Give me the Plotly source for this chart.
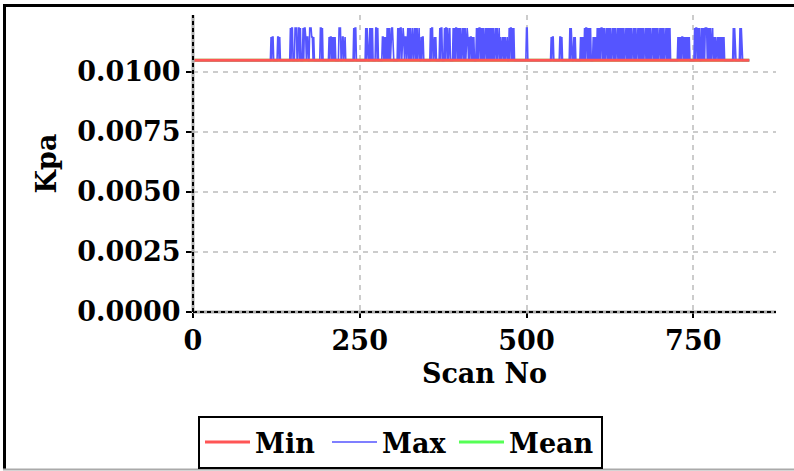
import plotly.graph_objects as go

# ---------------- data ----------------
n_scans = 835
scan_no = list(range(n_scans))

min_level = 0.010475          # Min stays flat for every scan
max_mid_level = 0.01145       # lower plateau reached by Max
max_top_level = 0.01182       # upper plateau reached by Max

# Max per scan: "0" = same as Min, "1" = lower plateau, "2" = upper plateau
max_code_rows = [
    "0" * 50,                                                                      # 0-49
    "0" * 50,                                                                      # 50-99
    "0" * 17 + "1011" + "0" * 6 + "1101" + "0" * 15 + "2022",                      # 100-149
    "000" + "222" + "00" + "2202" + "000" + "2022" + "1011" + "00" + "222" + "1101" + "0" * 9 + "2202" + "0" * 5,  # 150-199
    "0" * 4 + "1011" + "0" + "10101" + "0" * 5 + "222" + "00" + "11011" + "0" * 12 + "2022" + "0" * 5,  # 200-249
    "0" * 9 + "202" + "000" + "20202" + "0000" + "2202" + "0" * 6 + "110101" + "0" + "202020222",  # 250-299
    "0" * 7 + "202022022" + "101101" + "20202022" + "0" + "220202022" + "00" + "1011" + "0" * 4,  # 300-349
    "0" * 6 + "2022" + "0" + "1101" + "0" * 5 + "2022" + "000" + "202202022" + "0000" + "2020220202",  # 350-399
    "0" + "20220202022" + "1010110101" + "000" + "20202202" + "0" + "202022020202" + "0" + "202",  # 400-449
    "0202202022" + "0" + "10110101011" + "00" + "20220202" + "0" * 18,            # 450-499
    "22" + "0" * 35 + "1011" + "0" * 9,                                            # 500-549
    "1101" + "0" * 11 + "202" + "000" + "101" + "0" * 7 + "10101" + "0" + "2022020202" + "000",  # 550-599
    "10101" + "0" + "202020220202022" + "0" + "2020202202020220202" + "0" + "20202022",  # 600-649
    "02020202022" + "0" + "2020220202020202202" + "0" + "202020220202020202",      # 650-699
    "2" + "0" + "20202022020202" + "0" * 11 + "101010110101010101" + "0" * 5,     # 700-749
    "00" + "20220202" + "00" + "202020222" + "0" + "20202022" + "0" + "1010110101010101" + "000",  # 750-799
    "0" * 10 + "202" + "0" * 7 + "202" + "0" * 12,                                 # 800-834
]
max_codes = "".join(max_code_rows)
assert len(max_codes) == n_scans, len(max_codes)

level_of_code = {"0": min_level, "1": max_mid_level, "2": max_top_level}
min_kpa = [min_level] * n_scans
max_kpa = [level_of_code[c] for c in max_codes]
mean_kpa = [min_level] * n_scans

# ---------------- styling ----------------
FONT = "DejaVu Serif"
W, H = 794, 471
ML, MR, MT, MB = 193, 18, 15, 159
PW, PH = W - ML - MR, H - MT - MB


def px_x(px):
    return (px - ML) / PW


def px_y(py):
    return (H - MB - py) / PH


fig = go.Figure()
# Mean drawn first (hidden below), Min last (on top); legend order via legendrank
fig.add_trace(go.Scatter(x=scan_no, y=mean_kpa, mode="lines", name="Mean",
                         line=dict(color="#55ff55", width=3), legendrank=3, legendwidth=87))
fig.add_trace(go.Scatter(x=scan_no, y=max_kpa, mode="lines", name="Max",
                         line=dict(color="#5555ff", width=1.6), legendrank=2, legendwidth=67))
fig.add_trace(go.Scatter(x=scan_no, y=min_kpa, mode="lines", name="Min",
                         line=dict(color="#ff5555", width=3), legendrank=1, legendwidth=67))

tickfont = dict(family=FONT, size=27, color="black", weight="bold")
titlefont = dict(family=FONT, size=27, color="black", weight="bold")

fig.update_layout(
    width=W, height=H, autosize=False,
    margin=dict(l=ML, r=MR, t=MT, b=MB, autoexpand=False),
    paper_bgcolor="white", plot_bgcolor="white",
    showlegend=True,
    legend=dict(orientation="h", xref="container", yref="container",
                x=198 / W, y=1 - 416 / H, xanchor="left", yanchor="top",
                bordercolor="black", borderwidth=2, bgcolor="white",
                itemwidth=45,
                font=dict(family=FONT, size=27, color="black", weight="bold"),
                traceorder="normal"),
    xaxis=dict(range=[0, 874], tickvals=[0, 250, 500, 750], ticktext=["0", "250", "500", "750"],
               showgrid=True, gridcolor="#cccccc", griddash="5px,5px", gridwidth=1.5,
               zeroline=False, showline=False, ticks="outside", ticklen=5, tickwidth=2,
               tickcolor="black", tickfont=tickfont, automargin=False,
               title=dict(text="Scan No", font=titlefont, standoff=8)),
    yaxis=dict(range=[0, 0.012363], tickvals=[0, 0.0025, 0.005, 0.0075, 0.01],
               tickformat=".4f",
               showgrid=True, gridcolor="#cccccc", griddash="5px,5px", gridwidth=1.5,
               zeroline=False, showline=False, ticks="outside", ticklen=6, tickwidth=2,
               tickcolor="black", tickfont=tickfont, automargin=False,
               title=dict(text="Kpa", font=titlefont, standoff=12)),
)

shapes = [
    # axis lines: gray base with black dashes on top
    dict(type="line", xref="paper", yref="paper", x0=0, x1=1, y0=0, y1=0,
         line=dict(color="#aaaaaa", width=3)),
    dict(type="line", xref="paper", yref="paper", x0=0, x1=1, y0=0, y1=0,
         line=dict(color="black", width=2, dash="4px,3px")),
    dict(type="line", xref="paper", yref="paper", x0=0, x1=0, y0=0, y1=1,
         line=dict(color="#aaaaaa", width=3)),
    dict(type="line", xref="paper", yref="paper", x0=0, x1=0, y0=0, y1=1,
         line=dict(color="black", width=2, dash="4px,3px")),
    # outer frame
    dict(type="line", xref="paper", yref="paper", x0=px_x(3), x1=px_x(800), y0=px_y(5.5), y1=px_y(5.5),
         line=dict(color="black", width=3)),
    dict(type="line", xref="paper", yref="paper", x0=px_x(4.5), x1=px_x(4.5), y0=px_y(5), y1=px_y(469),
         line=dict(color="black", width=3)),
    dict(type="line", xref="paper", yref="paper", x0=px_x(3), x1=px_x(800), y0=px_y(469.5), y1=px_y(469.5),
         line=dict(color="#aaaaaa", width=2)),
]
fig.update_layout(shapes=shapes)

fig.write_html("out.html", config={"displayModeBar": False},
               post_script="document.body.style.margin='0px';")
